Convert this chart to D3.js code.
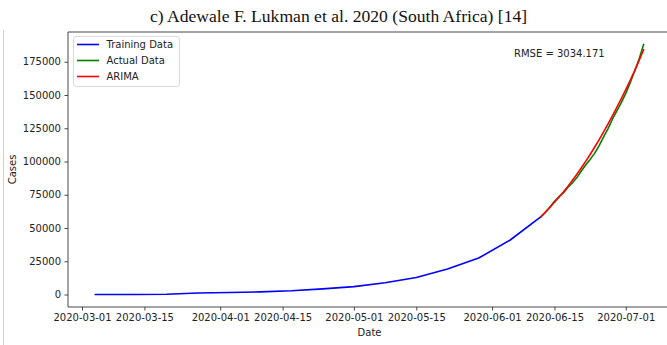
<!DOCTYPE html>
<html>
<head>
<meta charset="utf-8">
<script src="https://cdn.jsdelivr.net/npm/d3@7"></script>
<style>
  html, body { margin: 0; padding: 0; background: #fff; }
  svg { display: block; }
  text { font-family: "DejaVu Sans", sans-serif; fill: #222; }
  text.title { font-family: "Liberation Serif", "Times New Roman", serif; fill: #111; }
</style>
</head>
<body>
<svg id="chart" width="667" height="345"></svg>
<script>
// Weekly cumulative cases used for training
const trainDates = ["2020-03-04","2020-03-13","2020-03-20","2020-03-27","2020-04-03","2020-04-10",
  "2020-04-17","2020-04-24","2020-05-01","2020-05-08","2020-05-15","2020-05-22","2020-05-29",
  "2020-06-05","2020-06-12"];
const trainCases = [1, 24, 202, 1170, 1505, 2003, 2783, 4220, 5951, 8895, 12739, 19137, 27403, 40792, 58568];

// Test window: observed cases and ARIMA forecast
const testDates = ["2020-06-12","2020-06-13","2020-06-14","2020-06-15","2020-06-16","2020-06-17",
  "2020-06-18","2020-06-19","2020-06-20","2020-06-21","2020-06-22","2020-06-23","2020-06-24",
  "2020-06-25","2020-06-26","2020-06-27","2020-06-28","2020-06-29","2020-06-30","2020-07-01",
  "2020-07-02","2020-07-03","2020-07-04","2020-07-05"];
const actualCases = [58568, 61927, 65736, 70038, 73533, 76334, 80412, 83890, 87715, 92681, 97302,
  101590, 106108, 111796, 118375, 124590, 131800, 138134, 144264, 151209, 159333, 168061, 177124, 187977];
const arimaCases = [58568, 62000, 65600, 69300, 73100, 77100, 81300, 85700, 90300, 95100, 100100,
  105300, 110700, 116300, 122100, 128100, 134300, 140700, 147300, 154100, 161100, 168300, 176000, 184000];

const xTickLabels = ["2020-03-01","2020-03-15","2020-04-01","2020-04-15","2020-05-01",
  "2020-05-15","2020-06-01","2020-06-15","2020-07-01"];
const yTickValues = [0, 25000, 50000, 75000, 100000, 125000, 150000, 175000];

const seriesNames = ["Training Data", "Actual Data", "ARIMA"];
const seriesColors = ["#0000ff", "#008000", "#ff0000"];

const titleText = "c) Adewale F. Lukman et al. 2020 (South Africa) [14]";
const rmseText = "RMSE = 3034.171";

const parse = d3.utcParse("%Y-%m-%d");
const fmt = d3.utcFormat("%Y-%m-%d");

const train = trainDates.map((d, i) => ({ date: parse(d), value: trainCases[i] }));
const actual = testDates.map((d, i) => ({ date: parse(d), value: actualCases[i] }));
const arima = testDates.map((d, i) => ({ date: parse(d), value: arimaCases[i] }));
const all = train.concat(actual, arima);

const svg = d3.select("#chart");
const plot = { left: 68, right: 671, top: 32, bottom: 307 };

// Page frame line on the left
svg.append("line")
  .attr("x1", 3.5).attr("x2", 3.5).attr("y1", 30).attr("y2", 345)
  .attr("stroke", "#cfcfcf").attr("stroke-width", 1);

// Data limits with 5% padding on each side
const [tMin, tMax] = d3.extent(all, d => +d.date);
const tPad = (tMax - tMin) * 0.05;
const [vMin, vMax] = d3.extent(all, d => d.value);
const vPad = (vMax - vMin) * 0.05;

const x = d3.scaleUtc()
  .domain([new Date(tMin - tPad), new Date(tMax + tPad)])
  .range([plot.left, plot.right]);
const y = d3.scaleLinear()
  .domain([vMin - vPad, vMax + vPad])
  .range([plot.bottom, plot.top]);

// Clip so nothing spills outside the axes area
svg.append("clipPath").attr("id", "clip")
  .append("rect")
  .attr("x", plot.left).attr("y", plot.top)
  .attr("width", plot.right - plot.left).attr("height", plot.bottom - plot.top);

const line = d3.line().x(d => x(d.date)).y(d => y(d.value));
const g = svg.append("g").attr("clip-path", "url(#clip)");
[train, actual, arima].forEach((s, i) => {
  g.append("path")
    .datum(s)
    .attr("d", line)
    .attr("fill", "none")
    .attr("stroke", seriesColors[i])
    .attr("stroke-width", 1.6)
    .attr("stroke-linejoin", "round")
    .attr("stroke-linecap", "square");
});

// Axes
const xAxis = d3.axisBottom(x)
  .tickValues(xTickLabels.map(parse))
  .tickFormat(fmt)
  .tickSizeInner(3.5).tickSizeOuter(0).tickPadding(3.5);
const yAxis = d3.axisLeft(y)
  .tickValues(yTickValues)
  .tickFormat(d3.format("d"))
  .tickSizeInner(3.5).tickSizeOuter(0).tickPadding(3.5);

const gx = svg.append("g").attr("transform", `translate(0,${plot.bottom})`).call(xAxis);
const gy = svg.append("g").attr("transform", `translate(${plot.left},0)`).call(yAxis);
[gx, gy].forEach(a => {
  a.select(".domain").remove();
  a.selectAll(".tick line").attr("stroke", "#333").attr("stroke-width", 0.9);
  a.selectAll(".tick text").attr("font-size", 10).attr("fill", "#222");
});

// Spines
const spine = (x1, y1, x2, y2) => svg.append("line")
  .attr("x1", x1).attr("y1", y1).attr("x2", x2).attr("y2", y2)
  .attr("stroke", "#333").attr("stroke-width", 0.9);
spine(plot.left, plot.top, plot.right, plot.top);
spine(plot.left, plot.top, plot.left, plot.bottom);
spine(plot.left, plot.bottom, plot.right, plot.bottom);
spine(plot.right, plot.top, plot.right, plot.bottom);

// Axis titles
svg.append("text")
  .attr("x", (plot.left + plot.right) / 2).attr("y", 336)
  .attr("text-anchor", "middle").attr("font-size", 10)
  .text("Date");
svg.append("text")
  .attr("transform", `translate(16,${(plot.top + plot.bottom) / 2}) rotate(-90)`)
  .attr("text-anchor", "middle").attr("font-size", 10)
  .text("Cases");

// Title
svg.append("text")
  .attr("class", "title")
  .attr("x", 338.5).attr("y", 22)
  .attr("text-anchor", "middle")
  .attr("font-size", 17.6)
  .text(titleText);

// RMSE annotation
svg.append("text")
  .attr("x", 514).attr("y", 56.5)
  .attr("font-size", 10)
  .text(rmseText);

// Legend
const lg = svg.append("g");
lg.append("rect")
  .attr("x", 73.5).attr("y", 36.5).attr("width", 106).attr("height", 50)
  .attr("rx", 2.5)
  .attr("fill", "#fff").attr("fill-opacity", 0.8)
  .attr("stroke", "#d6d6d6").attr("stroke-width", 0.9);
seriesNames.forEach((name, i) => {
  const yy = 44.5 + i * 16;
  lg.append("line")
    .attr("x1", 77).attr("x2", 99).attr("y1", yy).attr("y2", yy)
    .attr("stroke", seriesColors[i]).attr("stroke-width", 1.6);
  lg.append("text")
    .attr("x", 106.5).attr("y", yy + 3.6)
    .attr("font-size", 10)
    .text(name);
});
</script>
</body>
</html>
